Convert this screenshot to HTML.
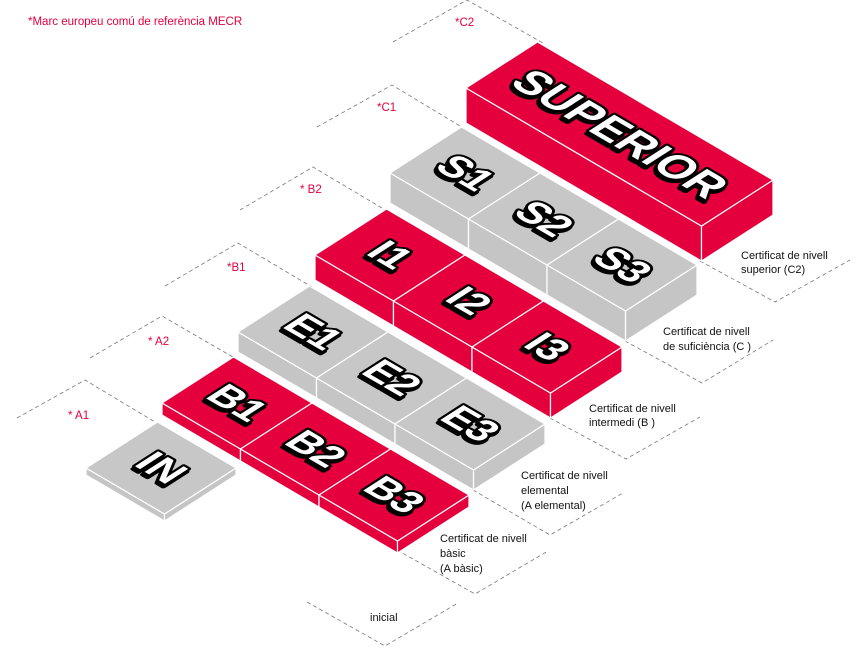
<!DOCTYPE html>
<html><head><meta charset="utf-8"><style>
html,body{margin:0;padding:0;background:#fff;}
svg{display:block;}
.lbl{font-family:"Liberation Sans",sans-serif;font-size:11px;fill:#111;}
.red{font-family:"Liberation Sans",sans-serif;font-size:11.5px;fill:#e4003c;}
.d{fill:none;stroke:#777;stroke-width:0.8;stroke-dasharray:4 3;}
.bt{font-family:"Liberation Sans",sans-serif;font-weight:bold;fill:#fff;stroke:#000;stroke-width:5;paint-order:stroke;stroke-linejoin:round;text-anchor:middle;dominant-baseline:central;}
.sh{font-family:"Liberation Sans",sans-serif;font-weight:bold;fill:#000;stroke:#000;stroke-width:5;stroke-linejoin:round;text-anchor:middle;dominant-baseline:central;}
</style></head><body>
<svg id="s" width="859" height="648" viewBox="0 0 859 648" xmlns="http://www.w3.org/2000/svg">
<text class="red" x="28" y="25">*Marc europeu comú de referència MECR</text>
<polyline class="d" points="17,418 85,380 160,425"/>
<polyline class="d" points="90,358 162,316 238,360"/>
<polyline class="d" points="165,286 238,243 312,287"/>
<polyline class="d" points="240,210 313,167 387,211"/>
<polyline class="d" points="317,127 392,85 465,129"/>
<polyline class="d" points="393,42 467,0 543,43"/>
<text class="red" x="68" y="419">* A1</text>
<text class="red" x="148" y="345">* A2</text>
<text class="red" x="227" y="271">*B1</text>
<text class="red" x="300" y="193">* B2</text>
<text class="red" x="377" y="111">*C1</text>
<text class="red" x="455" y="26">*C2</text>
<polyline class="d" points="700,261 775,302 850,260"/>
<polyline class="d" points="625,341 702,383 773,340"/>
<polyline class="d" points="550,418 626,459 700,417"/>
<polyline class="d" points="473,490 550,535 623,493"/>
<polyline class="d" points="397,550 475,594 548,551"/>
<polyline class="d" points="307,602 385,646 458,603"/>
<g class="lbl">
<text x="741" y="259">Certificat de nivell</text><text x="741" y="273">superior (C2)</text>
<text x="663" y="335">Certificat de nivell</text><text x="663" y="350">de suficiència (C )</text>
<text x="589" y="412">Certificat de nivell</text><text x="589" y="426">intermedi (B )</text>
<text x="521" y="479">Certificat de nivell</text><text x="521" y="494">elemental</text><text x="521" y="509">(A elemental)</text>
<text x="440" y="542">Certificat de nivell</text><text x="440" y="557">bàsic</text><text x="440" y="572">(A bàsic)</text>
<text x="370" y="621">inicial</text>
</g>
<g id="blocks"></g>
</svg>
<script>
(function(){
var ax=78.5,ay=46,bx=71.5,by=-46;
var NS="http://www.w3.org/2000/svg",g=document.getElementById("blocks");
function poly(pts,fill){var p=document.createElementNS(NS,"polygon");p.setAttribute("points",pts.map(function(q){return q[0].toFixed(1)+","+q[1].toFixed(1)}).join(" "));p.setAttribute("fill",fill);p.setAttribute("stroke","#fff");p.setAttribute("stroke-width","1.2");p.setAttribute("stroke-linejoin","round");g.appendChild(p);}
function label(cx,cy,txt,fs){
 var m="translate("+cx+","+cy+") matrix(0.863,0.505,-0.841,0.541,0,0)";
 ["sh","bt"].forEach(function(c,i){var t=document.createElementNS(NS,"text");t.setAttribute("class",c);t.setAttribute("font-size",fs);t.setAttribute("transform",m+(i==0?" translate(1.5,3.5)":""));t.textContent=txt;g.appendChild(t);});
}
function block(Lx,Ly,len,t,fill,side,txt,fs){
 var Ax=ax*len,Ay=ay*len;
 var L=[Lx,Ly],A=[Lx+Ax,Ly+Ay],B=[Lx+bx,Ly+by],AB=[Lx+Ax+bx,Ly+Ay+by];
 poly([L,A,[A[0],A[1]+t],[L[0],L[1]+t]],side);
 poly([A,AB,[AB[0],AB[1]+t],[A[0],A[1]+t]],side);
 poly([L,B,AB,A],fill);
 label(Lx+(Ax+bx)/2,Ly+(Ay+by)/2,txt,fs);
}
var R="#e5003d",Rs="#e4003c",G="#c8c7c7",Gs="#c6c5c5";
block(466,88,3,35,R,Rs,"SUPERIOR",44);
[["S1","S2","S3",390,173,30,G,Gs],["I1","I2","I3",315,255,25,R,Rs],["E1","E2","E3",238,332,20,G,Gs],["B1","B2","B3",162,403,12,R,Rs]].forEach(function(r){
 for(var i=0;i<3;i++){block(r[3]+ax*i,r[4]+ay*i,1,r[5],r[6],r[7],r[i],40);}
});
block(86,468,1,7,G,Gs,"IN",40);
})();
</script>
</body></html>
